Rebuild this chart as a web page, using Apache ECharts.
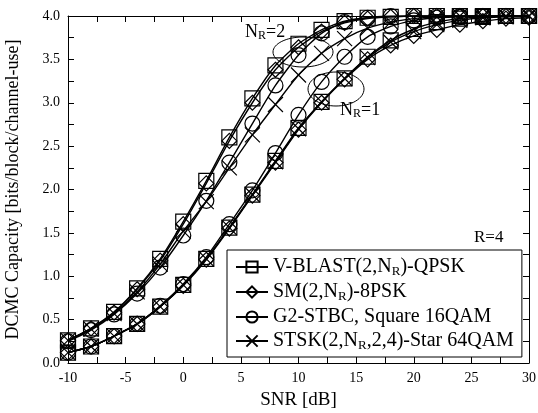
<!DOCTYPE html>
<html>
<head>
<meta charset="utf-8">
<script src="https://cdn.jsdelivr.net/npm/echarts@6/dist/echarts.min.js"></script>
<style>
  html, body { margin: 0; padding: 0; background: #fff; }
  #chart { width: 538px; height: 413px; }
</style>
</head>
<body>
<div id="chart"></div>
<script>
// SNR points, every 2 dB
var snr = [-10, -8, -6, -4, -2, 0, 2, 4, 6, 8, 10, 12, 14, 16, 18, 20, 22, 24, 26, 28, 30];

// N_R = 2
var vblast2 = [0.26, 0.40, 0.59, 0.86, 1.20, 1.63, 2.10, 2.60, 3.05, 3.43, 3.68, 3.84, 3.94, 3.98, 3.99, 4.00, 4.00, 4.00, 4.00, 4.00, 4.00];
var sm2     = [0.26, 0.40, 0.58, 0.85, 1.18, 1.60, 2.07, 2.56, 3.00, 3.38, 3.64, 3.82, 3.92, 3.97, 3.99, 4.00, 4.00, 4.00, 4.00, 4.00, 4.00];
var stbc2   = [0.25, 0.38, 0.56, 0.80, 1.10, 1.47, 1.87, 2.31, 2.76, 3.20, 3.55, 3.80, 3.93, 3.98, 4.00, 4.00, 4.00, 4.00, 4.00, 4.00, 4.00];
var stsk2   = [0.26, 0.39, 0.57, 0.82, 1.14, 1.52, 1.86, 2.25, 2.63, 2.98, 3.32, 3.57, 3.74, 3.86, 3.93, 3.97, 3.99, 4.00, 4.00, 4.00, 4.00];

// N_R = 1
var vblast1 = [0.12, 0.19, 0.31, 0.45, 0.65, 0.90, 1.20, 1.56, 1.94, 2.33, 2.71, 3.01, 3.28, 3.53, 3.72, 3.85, 3.93, 3.97, 3.99, 4.00, 4.00];
var sm1     = [0.12, 0.19, 0.31, 0.45, 0.65, 0.89, 1.19, 1.55, 1.93, 2.31, 2.69, 3.00, 3.27, 3.50, 3.66, 3.77, 3.84, 3.90, 3.94, 3.97, 3.98];
var stbc1   = [0.12, 0.19, 0.31, 0.45, 0.66, 0.91, 1.22, 1.60, 1.99, 2.42, 2.86, 3.24, 3.53, 3.76, 3.88, 3.95, 3.98, 3.99, 4.00, 4.00, 4.00];
var stsk1   = [0.12, 0.19, 0.31, 0.45, 0.65, 0.90, 1.20, 1.56, 1.94, 2.32, 2.70, 3.01, 3.28, 3.52, 3.70, 3.82, 3.90, 3.95, 3.98, 3.99, 4.00];

var names = ['V-BLAST(2,N_R)-QPSK', 'SM(2,N_R)-8PSK', 'G2-STBC, Square 16QAM', 'STSK(2,N_R,2,4)-Star 64QAM'];
var crossPath = 'path://M0,0L10,10M10,0L0,10';

var font = 'Liberation Serif';

function pairs(ys) {
    var out = [];
    for (var i = 0; i < snr.length; i++) out.push([snr[i], ys[i]]);
    return out;
}

function makeSeries(name, ys, symbol) {
    return {
        name: name,
        type: 'line',
        data: pairs(ys),
        symbol: symbol,
        symbolSize: 15,
        showAllSymbol: true,
        smooth: 0.2,
        lineStyle: { color: '#000', width: 1.4 },
        itemStyle: { color: 'rgba(0,0,0,0)', borderColor: '#000', borderWidth: 1.2 },
        emphasis: { disabled: true },
        z: 2
    };
}

var series = [
    makeSeries(names[0], vblast2, 'rect'),
    makeSeries(names[1], sm2, 'diamond'),
    makeSeries(names[2], stbc2, 'circle'),
    makeSeries(names[3], stsk2, crossPath),
    makeSeries(names[0], vblast1, 'rect'),
    makeSeries(names[1], sm1, 'diamond'),
    makeSeries(names[2], stbc1, 'circle'),
    makeSeries(names[3], stsk1, crossPath)
];

var legendText = {};
legendText[names[0]] = 'V-BLAST(2,N{s|R})-QPSK';
legendText[names[1]] = 'SM(2,N{s|R})-8PSK';
legendText[names[2]] = 'G2-STBC, Square 16QAM';
legendText[names[3]] = 'STSK(2,N{s|R},2,4)-Star 64QAM';

var axisLine = { show: true, onZero: false, lineStyle: { color: '#000', width: 1 } };
var tick = { show: true, inside: true, length: 6, lineStyle: { color: '#000' } };
var minor = { show: true, splitNumber: 2, length: 6, lineStyle: { color: '#000' } };

var chart = echarts.init(document.getElementById('chart'));
chart.setOption({
    backgroundColor: '#fff',
    animation: false,
    grid: { left: 68, right: 9, top: 16, bottom: 50, outerBoundsMode: 'none' },
    xAxis: [{
        type: 'value', min: -10, max: 30, interval: 5,
        name: 'SNR [dB]', nameLocation: 'middle', nameGap: 28,
        nameTextStyle: { fontFamily: font, fontSize: 19, color: '#000' },
        axisLine: axisLine, axisTick: tick, minorTick: minor,
        splitLine: { show: false },
        axisLabel: { fontFamily: font, fontSize: 14, color: '#000', margin: 8 }
    }, {
        type: 'value', min: -10, max: 30, interval: 5, position: 'top',
        axisLine: axisLine, axisTick: tick, minorTick: minor,
        splitLine: { show: false }, axisLabel: { show: false }
    }],
    yAxis: [{
        type: 'value', min: 0, max: 4, interval: 0.5,
        name: 'DCMC Capacity [bits/block/channel-use]', nameLocation: 'middle', nameGap: 46,
        nameTextStyle: { fontFamily: font, fontSize: 18, color: '#000' },
        axisLine: axisLine, axisTick: tick, minorTick: minor,
        splitLine: { show: false },
        axisLabel: { fontFamily: font, fontSize: 14, color: '#000', margin: 8,
            formatter: function (v) { return v.toFixed(1); } }
    }, {
        type: 'value', min: 0, max: 4, interval: 0.5, position: 'right',
        axisLine: axisLine, axisTick: tick, minorTick: minor,
        splitLine: { show: false }, axisLabel: { show: false }
    }],
    legend: {
        data: names,
        orient: 'vertical',
        left: 227, top: 250,
        backgroundColor: '#fff',
        borderColor: '#000', borderWidth: 1,
        padding: [7, 8, 5, 8],
        itemGap: 4,
        itemWidth: 32, itemHeight: 14,
        selectedMode: false,
        formatter: function (n) { return legendText[n]; },
        textStyle: {
            fontFamily: font, fontSize: 20, color: '#000',
            rich: { s: { fontFamily: font, fontSize: 13, color: '#000', padding: [9, 0, 0, 0] } }
        }
    },
    graphic: [
        { type: 'ellipse', shape: { cx: 303, cy: 52, rx: 30, ry: 15 },
          style: { fill: 'none', stroke: '#000', lineWidth: 1 }, z: 10 },
        { type: 'ellipse', shape: { cx: 336, cy: 89, rx: 28, ry: 17 },
          style: { fill: 'none', stroke: '#000', lineWidth: 1 }, z: 10 },
        { type: 'text', left: 245, top: 23, z: 10,
          style: { text: 'N{s|R}=2', fill: '#000', font: '18px "Liberation Serif"',
                   rich: { s: { fontFamily: font, fontSize: 12, padding: [8, 0, 0, 0] } } } },
        { type: 'text', left: 340, top: 101, z: 10,
          style: { text: 'N{s|R}=1', fill: '#000', font: '18px "Liberation Serif"',
                   rich: { s: { fontFamily: font, fontSize: 12, padding: [8, 0, 0, 0] } } } },
        { type: 'text', left: 474, top: 229, z: 10,
          style: { text: 'R=4', fill: '#000', font: '17px "Liberation Serif"' } }
    ],
    series: series
});
</script>
</body>
</html>
